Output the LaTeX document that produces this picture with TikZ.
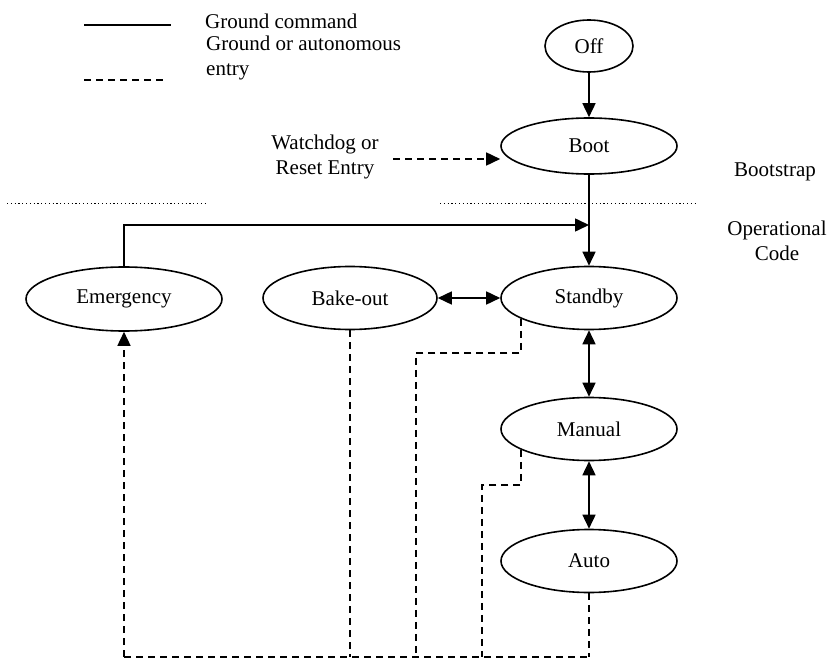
\documentclass[tikz,border=0pt]{standalone}
\usepackage{fontspec}
\setmainfont{Liberation Serif}
\usetikzlibrary{arrows.meta,shapes.geometric}
\begin{document}
\begin{tikzpicture}[x=1pt,y=-1pt,
  font=\fontsize{21}{25}\selectfont,
  state/.style={ellipse,draw,line width=1.6pt,inner sep=0pt,minimum width=176pt,minimum height=63pt},
  solidline/.style={line width=1.6pt},
  dline/.style={line width=1.6pt,dash pattern=on 7pt off 5pt},
  dotline/.style={line width=0.9pt,dash pattern=on 1.2pt off 2.6pt},
  tip/.style={-{Triangle[length=14pt,width=13pt]}},
  dtip/.style={{Triangle[length=14pt,width=13pt]}-{Triangle[length=14pt,width=13pt]}},
  lbl/.style={inner sep=0pt,align=center}
]
\useasboundingbox (0,0) rectangle (829,660);

% legend
\coordinate (legSolidA) at (84,25);
\coordinate (legSolidB) at (171,25);
\coordinate (legDashA) at (84,80);
\coordinate (legDashB) at (166,80);
\draw[solidline] (legSolidA) -- (legSolidB);
\draw[dline] (legDashA) -- (legDashB);
\node[lbl,anchor=west] (legGround) at (205,21) {Ground command};
\node[lbl,anchor=west,align=left] (legAuto) at (206,58) {Ground or autonomous\\entry};

% states
\node[state,minimum width=88pt,minimum height=52pt] (off) at (589,46) {Off};
\node[state,minimum height=56pt] (boot) at (589,146) {Boot};
\node[state] (standby) at (589,298) {Standby};
\node[state] (manual) at (589,429) {Manual};
\node[state] (auto) at (589,561) {Auto};
\node[state,minimum width=196pt,minimum height=64pt] (emergency) at (124,299) {Emergency};
\node[state,minimum width=174pt] (bakeout) at (350,298) {Bake-out};

% side labels
\node[lbl] (watchdog) at (325,157) {Watchdog or\\Reset Entry};
\node[lbl] (bootstrap) at (775,172) {Bootstrap};
\node[lbl] (opcode) at (777,241) {Operational\\Code};

% boundary between bootstrap and operational code
\coordinate (sepL1) at (7,203);
\coordinate (sepL2) at (207,203);
\coordinate (sepR1) at (440,203);
\coordinate (sepR2) at (698,203);
\draw[dotline] (sepL1) -- (sepL2);
\draw[dotline] (sepR1) -- (sepR2);

% ground commands
\draw[solidline,tip] (off) -- (boot);
\draw[solidline,tip] (boot) -- (standby);
\coordinate (join) at (589,225);
\draw[solidline,tip] (emergency.north) |- (join);
\draw[solidline,dtip] (bakeout) -- (standby);
\draw[solidline,dtip] (standby) -- (manual);
\draw[solidline,dtip] (manual) -- (auto);

% watchdog / reset entry
\coordinate (wdStart) at (393,159);
\draw[dline,tip] (wdStart) -- (wdStart -| boot.west);

% autonomous transitions to emergency
\coordinate (bottomL) at (emergency.south |- 0,657);
\coordinate (sbTurn) at (416,353);
\coordinate (mnTurn) at (482,485);
\draw[dline] (bottomL) -- (auto.south |- bottomL);
\draw[dline,tip] (bottomL) -- (emergency.south);
\draw[dline] (bakeout.south) -- (bakeout.south |- bottomL);
\draw[dline] (standby.197) |- (sbTurn) -- (sbTurn |- bottomL);
\draw[dline] (manual.197) |- (mnTurn) -- (mnTurn |- bottomL);
\draw[dline] (auto.south) -- (auto.south |- bottomL);
\end{tikzpicture}
\end{document}
